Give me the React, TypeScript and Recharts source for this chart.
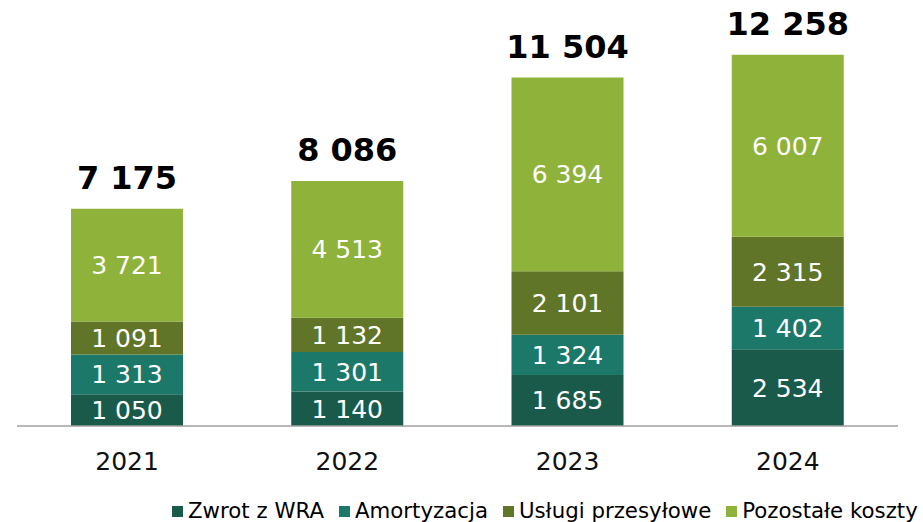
import React from 'react';
import { BarChart, Bar, XAxis, YAxis, Legend, LabelList } from 'recharts';

const years = ['2021', '2022', '2023', '2024'];
const zwrotWra = [1050, 1140, 1685, 2534];
const amortyzacja = [1313, 1301, 1324, 1402];
const uslugiPrzesylowe = [1091, 1132, 2101, 2315];
const pozostaleKoszty = [3721, 4513, 6394, 6007];
const totals = [7175, 8086, 11504, 12258];

const series = [
  { key: 'zwrot', name: 'Zwrot z WRA', color: '#1a5a4b', values: zwrotWra },
  { key: 'amort', name: 'Amortyzacja', color: '#1c7869', values: amortyzacja },
  { key: 'uslugi', name: 'Usługi przesyłowe', color: '#607527', values: uslugiPrzesylowe },
  { key: 'pozostale', name: 'Pozostałe koszty', color: '#8eb23a', values: pozostaleKoszty },
];

const data = years.map((year, i) => {
  const row: Record<string, string | number> = { year };
  series.forEach((s) => { row[s.key] = s.values[i]; });
  return row;
});

const FONT = '"DejaVu Sans", Verdana, sans-serif';
const fmt = (v: any) => String(v).replace(/\B(?=(\d{3})+(?!\d))/g, ' ');

function TotalLabel(props: any) {
  const { x, y, width, index } = props;
  return (
    <text x={Number(x) + Number(width) / 2} y={Number(y) - 20} textAnchor="middle"
      fontFamily={FONT} fontSize={32} fontWeight="bold" fill="#000">
      {fmt(totals[index])}
    </text>
  );
}

function LegendContent() {
  return (
    <div style={{ height: 36, boxSizing: 'border-box', paddingTop: 14, paddingLeft: 172, display: 'flex', whiteSpace: 'nowrap', fontFamily: FONT, fontSize: 21.3, lineHeight: '24px', color: '#000' }}>
      {series.map((s, i) => (
        <div key={s.key} style={{ display: 'flex', alignItems: 'center', marginRight: i === series.length - 1 ? 0 : 15 }}>
          <span style={{ width: 11, height: 11, background: s.color, marginRight: 5, display: 'inline-block' }} />
          <span>{s.name}</span>
        </div>
      ))}
    </div>
  );
}

export default function App() {
  return (
    <div style={{ width: 923, height: 522, background: '#fff' }}>
      <style>{'body{margin:0}'}</style>
      <BarChart width={923} height={522} data={data} margin={{ top: 2, right: 25, left: 17, bottom: 0 }} barSize={112}>
        <XAxis dataKey="year" height={60} tickLine={false} tickSize={0} tickMargin={26}
          axisLine={{ stroke: '#a0a0a0', strokeWidth: 1.5 }}
          tick={{ fontSize: 25, fill: '#111', fontFamily: FONT }} />
        <YAxis hide domain={[0, 14000]} />
        <Legend verticalAlign="bottom" wrapperStyle={{ left: 0, width: 923 }} content={<LegendContent />} />
        {series.map((s, i) => (
          <Bar key={s.key} dataKey={s.key} name={s.name} stackId="a" fill={s.color} isAnimationActive={false}>
            <LabelList dataKey={s.key} position="center" formatter={fmt} fill="#fff" fontSize={25} fontFamily={FONT} />
            {i === series.length - 1 && <LabelList dataKey={s.key} content={<TotalLabel />} />}
          </Bar>
        ))}
      </BarChart>
    </div>
  );
}
